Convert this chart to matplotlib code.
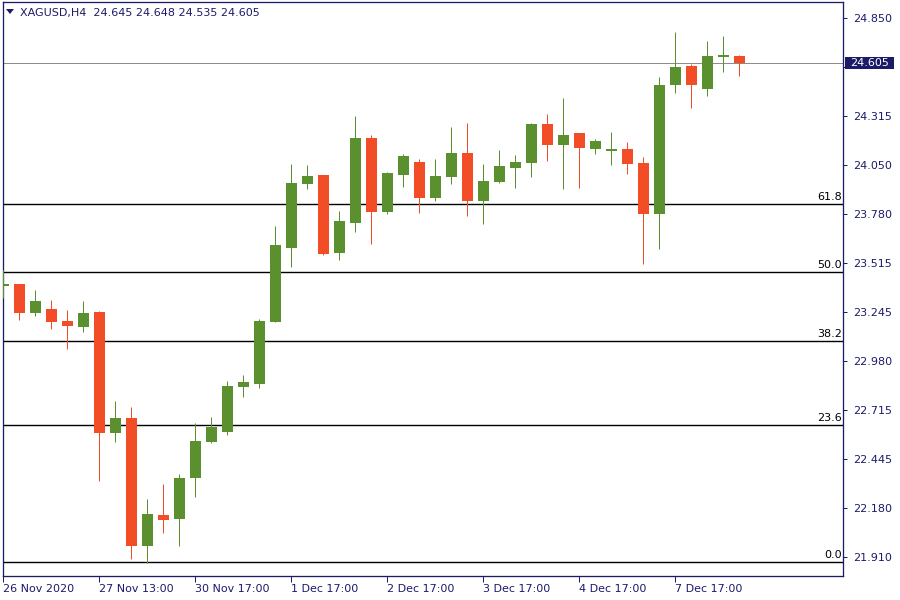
import matplotlib
matplotlib.use('Agg')
import matplotlib.pyplot as plt
import matplotlib.transforms as mtransforms
from matplotlib.patches import Rectangle, Polygon

# ---- data (XAGUSD H4 candles) ----
opens = [23.393, 23.399, 23.244, 23.264, 23.199, 23.168, 23.248, 22.589, 22.669, 21.973,
         22.140, 22.120, 22.344, 22.540, 22.595, 22.840, 22.857, 23.195, 23.599, 23.948,
         23.995, 23.571, 23.735, 24.197, 23.795, 23.997, 24.066, 23.871, 23.986, 24.115,
         23.855, 23.959, 24.035, 24.062, 24.273, 24.160, 24.224, 24.139, 24.124, 24.137,
         24.061, 23.784, 24.488, 24.590, 24.466, 24.642, 24.645]
highs = [23.477, 23.402, 23.368, 23.313, 23.259, 23.308, 23.255, 22.762, 22.729, 22.228,
         22.309, 22.364, 22.642, 22.675, 22.871, 22.904, 23.210, 23.717, 24.055, 24.050,
         23.997, 23.799, 24.317, 24.213, 24.011, 24.110, 24.082, 24.082, 24.257, 24.279,
         24.055, 24.132, 24.104, 24.279, 24.328, 24.415, 24.226, 24.192, 24.230, 24.175,
         24.093, 24.530, 24.775, 24.601, 24.726, 24.753, 24.648]
lows = [23.322, 23.204, 23.228, 23.157, 23.048, 23.140, 22.327, 22.540, 21.902, 21.880,
        22.044, 21.973, 22.240, 22.535, 22.578, 22.786, 22.835, 23.195, 23.495, 23.920,
        23.560, 23.533, 23.686, 23.620, 23.784, 23.931, 23.789, 23.855, 23.948, 23.773,
        23.729, 23.953, 23.926, 23.986, 24.073, 23.920, 23.926, 24.111, 24.051, 24.002,
        23.511, 23.593, 24.444, 24.362, 24.428, 24.559, 24.535]
closes = [23.397, 23.244, 23.308, 23.195, 23.173, 23.242, 22.589, 22.669, 21.973, 22.146,
          22.115, 22.342, 22.544, 22.620, 22.844, 22.866, 23.199, 23.613, 23.951, 23.990,
          23.566, 23.744, 24.197, 23.795, 24.006, 24.099, 23.871, 23.990, 24.115, 23.855,
          23.962, 24.044, 24.066, 24.273, 24.160, 24.213, 24.144, 24.181, 24.137, 24.057,
          23.784, 24.486, 24.584, 24.488, 24.644, 24.645, 24.605]

y_ticks = [24.850, 24.585, 24.315, 24.050, 23.780, 23.515, 23.245, 22.980, 22.715, 22.445, 22.180, 21.910]
x_tick_idx = [0, 6, 12, 18, 24, 30, 36, 42]
x_tick_labels = ["26 Nov 2020", "27 Nov 13:00", "30 Nov 17:00", "1 Dec 17:00",
                 "2 Dec 17:00", "3 Dec 17:00", "4 Dec 17:00", "7 Dec 17:00"]
fib_levels = [0.0, 23.6, 38.2, 50.0, 61.8]
fib_low = 21.882
fib_high = 25.046
bid = 24.605
symbol = "XAGUSD,H4"
last_ohlc = [24.645, 24.648, 24.535, 24.605]

# ---- styling ----
W, H = 900, 600
navy = '#1b1b6a'
green = '#5b902f'
red = '#f24d26'
px = 0.72  # one pixel in points at dpi 100

fig = plt.figure(figsize=(9, 6), dpi=100)
left_px, right_px, top_px, bottom_px = 2.7, 843.3, 2.3, 575.7
ax = fig.add_axes([left_px / W, 1 - bottom_px / H, (right_px - left_px) / W, (bottom_px - top_px) / H])
ax.set_facecolor('white')

n = len(opens)
xs = list(range(n))
body_w = 0.69

# wicks
for i in xs:
    col = green if closes[i] >= opens[i] else red
    ax.vlines(i, lows[i], highs[i], colors=col, linewidth=px, zorder=3)
# bodies
for i in xs:
    col = green if closes[i] >= opens[i] else red
    lo = min(opens[i], closes[i])
    hgt = abs(closes[i] - opens[i])
    if hgt < 0.006:
        ax.hlines((opens[i] + closes[i]) / 2, i - body_w / 2, i + body_w / 2,
                  colors=col, linewidth=2 * px, zorder=4)
    else:
        ax.bar(i, hgt, bottom=lo, width=body_w, color=col, linewidth=0, zorder=4)

# fibonacci levels
blend = mtransforms.blended_transform_factory(ax.transAxes, ax.transData)
for lv in fib_levels:
    price = fib_low + (fib_high - fib_low) * lv / 100.0
    ax.axhline(price, color='black', linewidth=px * 1.4, zorder=2)
    ax.text(0.9986, price + 0.012, f"{lv:.1f}", transform=blend, ha='right', va='bottom',
            fontsize=8, color='black', zorder=5)

# bid line
ax.axhline(bid, color='#8c8c8c', linewidth=px, zorder=2)

ax.set_xlim(-0.0375, 52.5)
ax.set_ylim(21.809, 24.937)

# axes / ticks
for s in ax.spines.values():
    s.set_color(navy)
    s.set_linewidth(px * 1.3)
ax.yaxis.tick_right()
ax.set_yticks(y_ticks)
# the tick hidden behind the bid price box keeps its mark but no visible label
ax.set_yticklabels(["" if abs(v - bid) < 0.05 else f"{v:.3f}" for v in y_ticks])
ax.set_xticks(x_tick_idx)
ax.set_xticklabels(x_tick_labels)
for lbl in ax.get_xticklabels():
    lbl.set_ha('left')
ax.tick_params(axis='y', direction='out', length=3, width=px, colors=navy, labelsize=8, pad=4)
ax.tick_params(axis='x', direction='out', length=4, width=px, colors=navy, labelsize=8, pad=2)

# bid price label box on the price scale
fblend = mtransforms.blended_transform_factory(fig.transFigure, ax.transData)
ax.add_patch(Rectangle((845 / W, bid - 6.0 / 183.3), 49 / W, 12.0 / 183.3, transform=fblend,
                       facecolor=navy, edgecolor='none', clip_on=False, zorder=20))
ax.text(869.5 / W, bid, f"{bid:.3f}", transform=fblend, ha='center', va='center',
        fontsize=8, color='white', clip_on=False, zorder=21)

# title with triangle
fig.patches.append(Polygon([(6 / W, 1 - 9 / H), (14 / W, 1 - 9 / H), (10 / W, 1 - 14 / H)],
                           closed=True, transform=fig.transFigure, facecolor=navy,
                           edgecolor='none'))
fig.text(20 / W, 1 - 13 / H, f"{symbol}  " + " ".join(f"{v:.3f}" for v in last_ohlc),
         fontsize=8, color=navy, va='center', ha='left')

fig.savefig('out.png', dpi=100)
